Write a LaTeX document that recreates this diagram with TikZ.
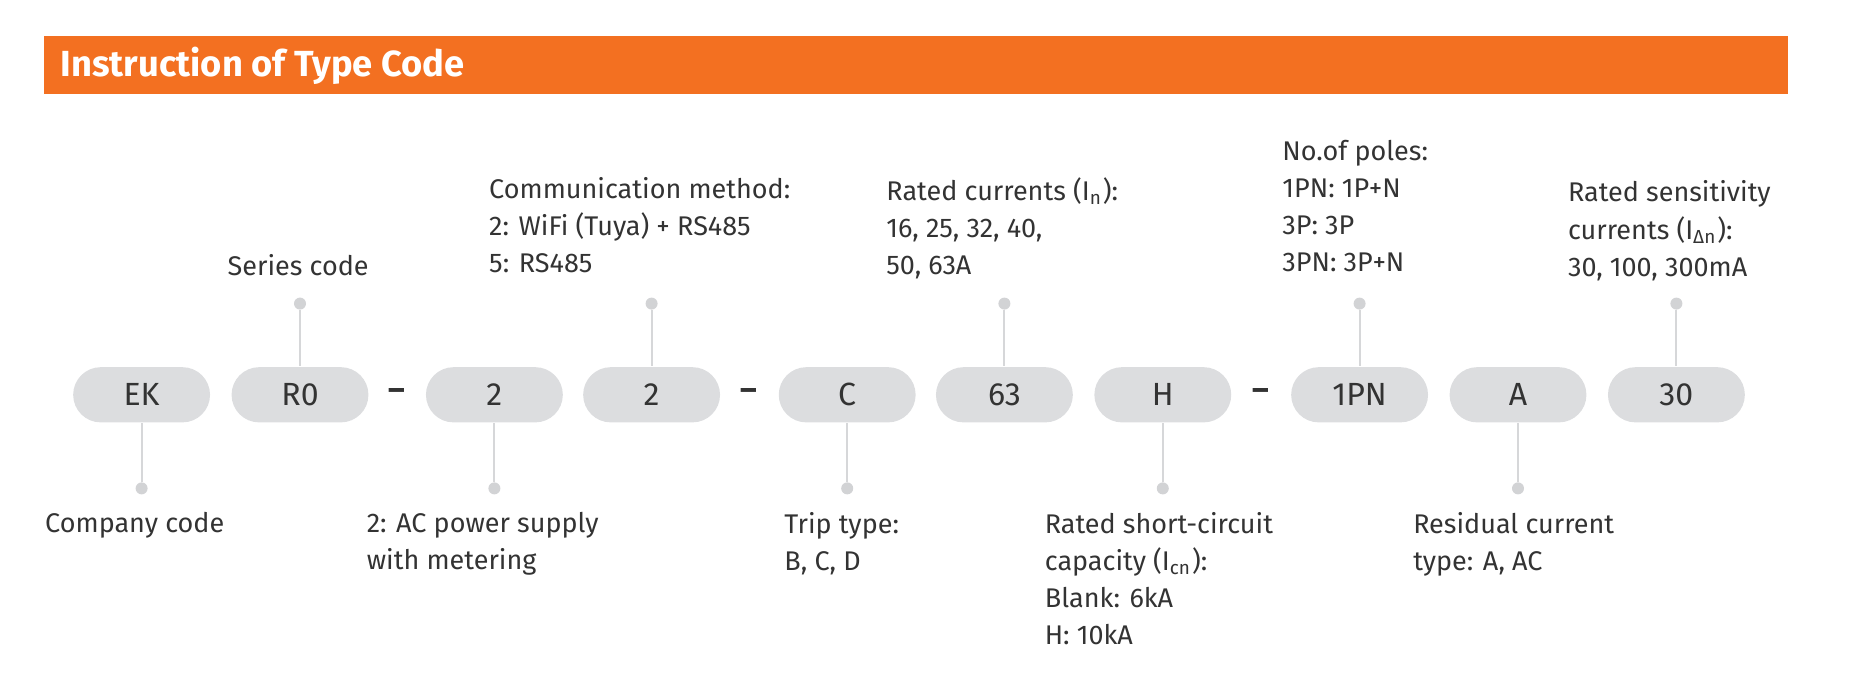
\documentclass[tikz,border=0pt]{standalone}
\usepackage{fontspec}
\setmainfont{Fira Sans}
\begin{document}
\begin{tikzpicture}[x=0.01cm,y=-0.01cm,
 pill/.style={fill=pillgray,rounded corners=0.23cm,minimum width=1.14cm,minimum height=0.46cm,inner sep=0pt,font=\fontsize{7.6pt}{9pt}\selectfont,text=txt},
 lbl/.style={anchor=north west,align=left,inner sep=0pt,font=\fontsize{6.4pt}{8.8pt}\selectfont,text=txt},
 dot/.style={circle,fill=dotgray,inner sep=0pt,minimum size=0.1cm},
 conn/.style={draw=linegray,line width=0.45pt},
 sep/.style={font=\fontsize{7.6pt}{9pt}\selectfont\bfseries,text=txt}]
\definecolor{pillgray}{HTML}{DCDDDF}
\definecolor{dotgray}{HTML}{D2D3D5}
\definecolor{linegray}{HTML}{D6D7D9}
\definecolor{txt}{HTML}{333333}
\definecolor{org}{HTML}{F37021}
\useasboundingbox (0,0) rectangle (1560,583);
\fill[org] (37,30) rectangle (1490,78);
\node[anchor=west,text=white,inner sep=0pt,font=\fontsize{8.6pt}{10pt}\selectfont\bfseries] (title) at (50,55) {Instruction of Type Code};
\foreach \n/\x/\t in {p1/118/EK,p2/250/R0,p3/412/2,p4/543/2,p5/706/C,p6/837/63,p7/969/H,p8/1133/1PN,p9/1265/A,p10/1397/30}
  \node[pill] (\n) at (\x,329) {\t};
\node[sep] (d1) at (331,329) {–};
\node[sep] (d2) at (624,329) {–};
\node[sep] (d3) at (1051,329) {–};
\foreach \n/\x in {p2/250,p4/543,p6/837,p8/1133,p10/1397}{
  \node[dot] (t\n) at (\x,253) {};
  \draw[conn] (t\n) -- (\n.north);}
\foreach \n/\x in {p1/118,p3/412,p5/706,p7/969,p9/1265}{
  \node[dot] (b\n) at (\x,407) {};
  \draw[conn] (\n.south) -- (b\n);}
\node[lbl] (l2) at (189,211) {Series code};
\node[lbl] (l4) at (407,147) {Communication method:\\2: WiFi (Tuya) + RS485\\5: RS485};
\node[lbl] (l6) at (738,147) {Rated currents (I\textsubscript{n}):\\16, 25, 32, 40,\\50, 63A};
\node[lbl] (l8) at (1068,116) {No.of poles:\\1PN: 1P+N\\3P: 3P\\3PN: 3P+N};
\node[lbl] (l10) at (1306,150) {Rated sensitivity\\currents (I\textsubscript{Δn}):\\30, 100, 300mA};
\node[lbl] (l1) at (37,426) {Company code};
\node[lbl] (l3) at (305,426) {2: AC power supply\\with metering};
\node[lbl] (l5) at (653,426) {Trip type:\\B, C, D};
\node[lbl] (l7) at (870,426) {Rated short-circuit\\capacity (I\textsubscript{cn}):\\Blank: 6kA\\H: 10kA};
\node[lbl] (l9) at (1177,426) {Residual current\\type: A, AC};
\end{tikzpicture}
\end{document}
